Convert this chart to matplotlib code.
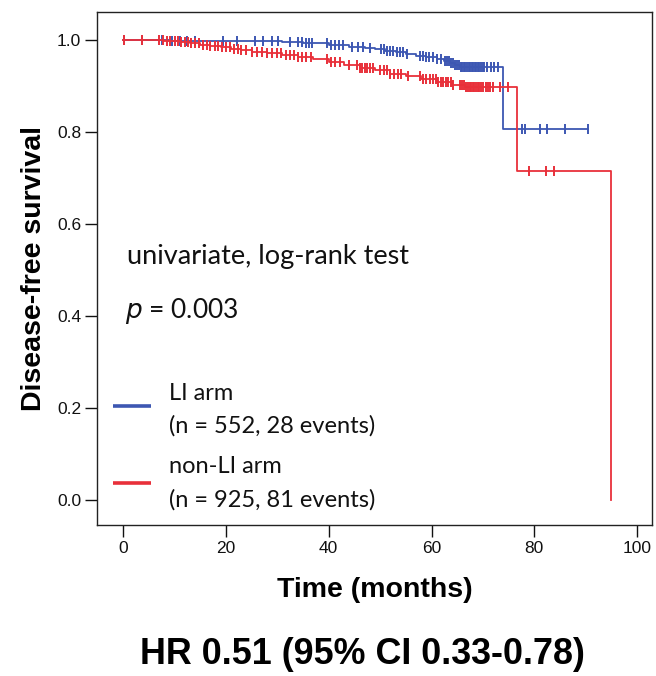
import matplotlib.pyplot as plt
import numpy as np

plt.rcParams['font.family'] = ['Liberation Sans', 'DejaVu Sans']

# Kaplan-Meier steps (months, survival after the step)
li_event_t = [9, 22, 31, 35, 40, 44, 47, 49, 51, 53, 55, 57, 59, 61, 62.5, 63.5, 64.5, 65.5, 73.9]
li_event_s = [0.999, 0.998, 0.996, 0.993, 0.990, 0.986, 0.983, 0.980, 0.977, 0.974, 0.970,
              0.966, 0.963, 0.959, 0.954, 0.950, 0.946, 0.942, 0.807]
li_censor = [0.2, 3.6, 7.5, 9.5, 11, 12.5, 14, 19.5, 22.1, 25.7, 27.3, 28.9, 30.2, 32.5, 34.0,
             34.8, 35.5, 36.2, 36.8, 39.7, 40.5, 41.3, 42.0, 42.8, 44.5, 45.7, 46.6, 48.0, 50.2,
             50.8, 51.4, 52.0, 52.6, 53.2, 53.8, 54.5, 55.2, 57.8, 58.4, 59.0, 59.6, 60.3, 61.0,
             61.8, 62.6, 63.0, 63.4, 63.8, 64.2, 64.6, 65.0, 65.3, 65.7, 66.0, 66.3, 66.6, 66.9,
             67.2, 67.5, 67.8, 68.1, 68.4, 68.7, 69.0, 69.3, 69.7, 70.0, 70.3, 70.8, 71.5, 72.2,
             73.0, 77.6, 78.2, 81.1, 82.4, 86.0, 90.5]

nli_event_t = [8, 11, 13, 15, 17, 19, 21, 23, 25, 28, 31, 34, 37, 40, 43, 46, 49, 52, 55, 58,
               61, 64, 66.5, 76.6, 94.9]
nli_event_s = [0.998, 0.996, 0.993, 0.990, 0.987, 0.984, 0.981, 0.978, 0.975, 0.971, 0.967,
               0.963, 0.958, 0.952, 0.946, 0.940, 0.934, 0.927, 0.921, 0.915, 0.909, 0.903,
               0.897, 0.716, 0.0]
nli_censor = [0.2, 3.6, 7.0, 7.8, 8.5, 9.2, 10.0, 10.6, 11.3, 12.0, 12.6, 13.2, 14.0, 14.8, 15.5,
              16.3, 17.0, 17.8, 18.5, 19.2, 20.0, 20.8, 21.5, 22.3, 23.0, 24.0, 25.0, 26.0, 27.0,
              28.0, 29.0, 30.0, 30.8, 31.6, 32.4, 33.2, 34.0, 34.8, 35.6, 36.5, 39.7, 40.5, 41.3,
              42.2, 44.0, 45.5, 46.0, 46.5, 47.0, 47.5, 48.0, 48.6, 50.0, 50.7, 51.4, 52.0, 52.7,
              53.4, 54.0, 55.5, 57.8, 58.4, 59.0, 59.7, 60.3, 60.8, 61.3, 61.8, 62.3, 62.8, 63.3,
              63.8, 64.2, 65.6, 66.0, 66.4, 66.8, 67.1, 67.4, 67.7, 68.0, 68.3, 68.6, 69.0, 69.3,
              69.6, 70.0, 70.5, 71.0, 71.4, 72.0, 73.3, 74.9, 78.9, 82.2, 83.8]

arm_labels = ["LI arm\n(n = 552, 28 events)", "non-LI arm\n(n = 925, 81 events)"]
blue = '#3d57b2'
red = '#e8303a'


def surv_at(t, ev_t, ev_s):
    idx = np.searchsorted(ev_t, t, side='right')
    s = np.concatenate([[1.0], ev_s])
    return s[idx]


fig = plt.figure(figsize=(6.56, 6.76), dpi=100)
ax = fig.add_axes([0.148, 0.2234, 0.846, 0.7588])

arms = [(li_event_t, li_event_s, li_censor, blue),
        (nli_event_t, nli_event_s, nli_censor, red)]
for ev_t, ev_s, cens, col in arms:
    end = max(max(ev_t), max(cens))
    xs = [0] + list(ev_t) + [end]
    ys = [1.0] + list(ev_s) + [ev_s[-1]]
    ax.step(xs, ys, where='post', color=col, lw=1.3)
    cy = surv_at(np.array(cens), ev_t, ev_s)
    ax.plot(cens, cy, ls='none', marker='|', ms=6.5, mew=1.4, color=col)

ax.set_xlim(-5.06, 102.9)
ax.set_ylim(-0.054, 1.061)
ax.set_xticks([0, 20, 40, 60, 80, 100])
ax.set_yticks([0.0, 0.2, 0.4, 0.6, 0.8, 1.0])
ax.set_yticklabels(['0.0', '0.2', '0.4', '0.6', '0.8', '1.0'])
ax.tick_params(direction='out', length=8.5, width=1.0, labelsize=12.5, pad=3,
               colors='#111111')
for sp in ax.spines.values():
    sp.set_linewidth(1.0)
    sp.set_color('#222222')

ax.set_xlabel('Time (months)', fontsize=20.5, fontweight='bold', labelpad=15)
ax.set_ylabel('Disease-free survival', fontsize=20.5, fontweight='bold', labelpad=7)

note_font = dict(family='Lato', color='#111111')
ax.text(0.8, 0.514, 'univariate, log-rank test', va='baseline', fontsize=19.5, **note_font)
ax.text(0.4, 0.396, r'$p$ = 0.003', va='baseline', fontsize=19, **note_font)

# legend, drawn by hand
for (lab, col, ly, ty) in [(arm_labels[0], blue, 0.205, 0.217),
                           (arm_labels[1], red, 0.037, 0.058)]:
    ax.plot([-1.95, 5.45], [ly, ly], color=col, lw=2.6, solid_capstyle='butt')
    first, second = lab.split('\n')
    ax.text(8.95, ty, first, va='baseline', fontsize=17, **note_font)
    ax.text(8.95, ty - 0.071, second, va='baseline', fontsize=17, **note_font)

fig.text(0.5524, 0.018, 'HR 0.51 (95% CI 0.33-0.78)', ha='center', va='baseline',
         fontsize=25.8, fontweight='bold')

fig.savefig('out.png', dpi=100)
